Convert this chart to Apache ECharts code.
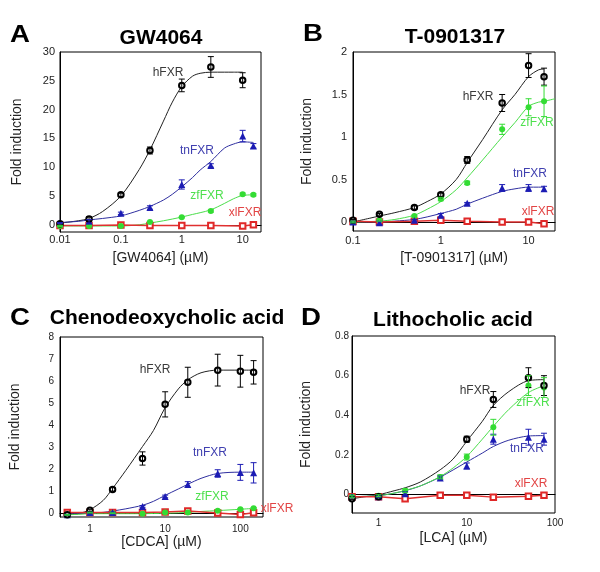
<!DOCTYPE html>
<html><head><meta charset="utf-8">
<script src="https://cdn.jsdelivr.net/npm/echarts@6/dist/echarts.min.js"></script>
<style>html,body{margin:0;padding:0;background:#fff}#c{width:600px;height:572px}</style>
</head><body><div id="c"></div>
<script>
// ---------- DATA ----------
const seriesNames = ['hFXR', 'tnFXR', 'zfFXR', 'xlFXR'];
const panelTitles = ['GW4064', 'T-0901317', 'Chenodeoxycholic acid', 'Lithocholic acid'];
const panelLetters = ['A', 'B', 'C', 'D'];
const xAxisNames = ['[GW4064] (\u00b5M)', '[T-0901317] (\u00b5M)', '[CDCA] (\u00b5M)', '[LCA] (\u00b5M)'];
const yAxisName = 'Fold induction';

// Panel A: GW4064
const A_dose = [0.01, 0.03, 0.1, 0.3, 1, 3, 10, 15];
const A_h = [0.2, 1.0, 5.2, 12.9, 24.2, 27.4, 25.1, null];
const A_h_err = [0.2, 0.4, 0.3, 0.6, 1.1, 1.8, 1.3, null];
const A_tn = [0.3, 0.6, 2.0, 3.0, 7.0, 10.3, 15.4, 13.7];
const A_tn_err = [0.1, 0.3, 0.2, 0.3, 0.8, 0.3, 1.0, 0.4];
const A_zf = [-0.2, -0.2, -0.2, 0.5, 1.3, 2.4, 5.3, 5.2];
const A_zf_err = [0.1, 0.1, 0.1, 0.1, 0.1, 0.2, 0.2, 0.2];
const A_xl = [-0.1, -0.1, -0.05, -0.1, -0.1, -0.1, -0.2, 0.0];
const A_fit_x = [0.01, 0.02, 0.03, 0.05, 0.1, 0.2, 0.3, 0.5, 0.7, 1, 1.5, 2, 3, 5, 7, 10, 15];
const A_h_fit = [0.3, 0.7, 1.1, 2.3, 5.0, 9.6, 13.0, 18.0, 21.3, 24.0, 25.8, 26.3, 26.5, 26.5, 26.5, 26.5, null];
const A_tn_fit = [0.4, 0.6, 0.85, 1.1, 1.55, 2.5, 3.2, 4.3, 5.3, 6.6, 8.2, 9.5, 11.0, 13.3, 14.0, 14.4, 14.3];
const A_zf_fit = [-0.2, -0.2, -0.2, -0.2, -0.2, 0.0, 0.3, 0.7, 1.0, 1.35, 1.8, 2.1, 2.6, 3.7, 4.5, 5.1, 5.2];
const A_yTicks = [0, 5, 10, 15, 20, 25, 30];

// Panel B: T-0901317
const B_dose = [0.1, 0.2, 0.5, 1, 2, 5, 10, 15];
const B_h = [0.02, 0.09, 0.17, 0.32, 0.73, 1.40, 1.84, 1.71];
const B_h_err = [0.01, 0.01, 0.02, 0.02, 0.04, 0.10, 0.14, 0.10];
const B_tn = [0.0, -0.01, 0.02, 0.08, 0.22, 0.40, 0.40, 0.39];
const B_tn_err = [0.01, 0.02, 0.01, 0.02, 0.01, 0.04, 0.04, 0.03];
const B_zf = [0.0, 0.02, 0.07, 0.27, 0.46, 1.09, 1.35, 1.42];
const B_zf_err = [0.01, 0.01, 0.01, 0.02, 0.02, 0.06, 0.10, 0.18];
const B_xl = [0.01, 0.0, 0.01, 0.02, 0.01, 0.0, 0.0, -0.02];
const B_fit_x = [0.1, 0.2, 0.3, 0.5, 0.7, 1, 1.5, 2, 3, 5, 7, 10, 13, 15, 20];
const B_h_fit = [0.0, 0.07, 0.11, 0.17, 0.24, 0.33, 0.5, 0.7, 0.97, 1.32, 1.5, 1.71, 1.79, 1.8, null];
const B_tn_fit = [0.0, 0.0, 0.01, 0.03, 0.06, 0.1, 0.15, 0.21, 0.28, 0.36, 0.39, 0.41, 0.41, 0.41, null];
const B_zf_fit = [0.0, 0.01, 0.03, 0.08, 0.15, 0.24, 0.38, 0.52, 0.73, 1.0, 1.17, 1.36, 1.41, 1.42, 1.45];
const B_yTicks = [0, 0.5, 1, 1.5, 2];

// Panel C: CDCA
const C_dose = [0.5, 1, 2, 5, 10, 20, 50, 100, 150];
const C_h = [-0.05, 0.15, 1.1, 2.5, 4.95, 5.95, 6.5, 6.45, 6.4];
const C_h_err = [0.02, 0.05, 0.08, 0.3, 0.57, 0.68, 0.72, 0.72, 0.53];
const C_tn = [-0.05, 0.05, 0.05, 0.33, 0.78, 1.32, 1.82, 1.87, 1.85];
const C_tn_err = [0.02, 0.02, 0.02, 0.04, 0.06, 0.13, 0.17, 0.36, 0.46];
const C_zf = [-0.05, 0.05, 0.02, 0.0, 0.05, 0.05, 0.13, 0.2, 0.25];
const C_zf_err = [0.02, 0.02, 0.02, 0.02, 0.02, 0.02, 0.03, 0.03, 0.03];
const C_xl = [0.05, 0.05, 0.05, 0.05, 0.08, 0.12, 0.03, -0.04, 0.04];
const C_fit_x = [0.5, 0.7, 1, 1.5, 2, 3, 5, 7, 10, 15, 20, 30, 50, 100, 150];
const C_h_fit = [-0.05, 0.0, 0.18, 0.6, 1.14, 1.96, 3.04, 3.77, 4.8, 5.65, 6.06, 6.38, 6.5, 6.5, 6.5];
const C_tn_fit = [0.0, 0.0, 0.02, 0.06, 0.12, 0.22, 0.38, 0.56, 0.83, 1.12, 1.33, 1.6, 1.82, 1.88, 1.88];
const C_zf_fit = [-0.05, -0.03, 0.0, 0.0, 0.0, 0.0, 0.0, 0.01, 0.02, 0.04, 0.06, 0.1, 0.14, 0.2, 0.24];
const C_yTicks = [0, 1, 2, 3, 4, 5, 6, 7, 8];

// Panel D: LCA
const D_dose = [0.5, 1, 2, 5, 10, 20, 50, 75];
const D_h = [-0.02, -0.01, null, null, 0.28, 0.48, 0.59, 0.55];
const D_h_err = [0.005, 0.005, null, null, 0.015, 0.04, 0.05, 0.05];
const D_tn = [-0.01, -0.01, 0.005, 0.085, 0.145, 0.28, 0.29, 0.28];
const D_tn_err = [0.005, 0.005, 0.01, 0.01, 0.015, 0.025, 0.04, 0.03];
const D_zf = [-0.01, -0.005, 0.02, 0.09, 0.19, 0.34, 0.55, 0.54];
const D_zf_err = [0.005, 0.005, 0.01, 0.01, 0.015, 0.04, 0.05, 0.05];
const D_xl = [-0.01, -0.01, -0.02, -0.003, -0.003, -0.012, -0.007, -0.003];
const D_fit_x = [0.5, 0.7, 1, 1.5, 2, 3, 5, 7, 10, 15, 20, 30, 50, 75];
const D_h_fit = [-0.02, -0.01, 0.0, 0.02, 0.035, 0.065, 0.126, 0.18, 0.27, 0.37, 0.45, 0.52, 0.575, 0.58];
const D_tn_fit = [-0.01, -0.008, -0.005, 0.008, 0.02, 0.045, 0.089, 0.125, 0.165, 0.21, 0.243, 0.275, 0.296, 0.298];
const D_zf_fit = [-0.01, -0.008, -0.005, 0.008, 0.022, 0.045, 0.092, 0.135, 0.193, 0.28, 0.345, 0.43, 0.515, 0.55];
const D_yTicks = [0, 0.2, 0.4, 0.6, 0.8];

// ---------- LAYOUT / STYLE ----------
const FONT = '"Liberation Sans", Arial, sans-serif';
const COL = { h: '#000000', tn: '#1c1cb4', zf: '#34dc34', xl: '#e02828' };
const LINECOL = { h: '#222222', tn: '#2f2fa0', zf: '#4ade4a', xl: '#e03030' };
const LABCOL = { hFXR: '#3a3a3a', tnFXR: '#4040b0', zfFXR: '#4ee04e', xlFXR: '#e24545' };

const layout = [
  { grid: {left: 60, top: 52, width: 201, height: 180}, xMin: 0.01, xMax: 20, yMin: -1.25, yMax: 30,
    tickFont: 11, xMargin: 2, yMargin: 5, xNameGap: 19, yNameGap: 36,
    letter: [20, 35], title: [161, 38],
    labels: { hFXR: [168, 73], tnFXR: [197, 151], zfFXR: [207, 196], xlFXR: [245, 213] } },
  { grid: {left: 353, top: 52, width: 202, height: 179}, xMin: 0.1, xMax: 20, yMin: -0.106, yMax: 2,
    tickFont: 11, xMargin: 4, yMargin: 6, xNameGap: 20, yNameGap: 39,
    letter: [313, 34], title: [455, 37],
    labels: { hFXR: [478, 97], zfFXR: [537, 123], tnFXR: [530, 174], xlFXR: [538, 212] } },
  { grid: {left: 60, top: 337, width: 203, height: 180}, xMin: 0.4, xMax: 200, yMin: -0.15, yMax: 8,
    tickFont: 10, xMargin: 7, yMargin: 6, xNameGap: 16, yNameGap: 38,
    letter: [20, 318], title: [167, 318],
    labels: { hFXR: [155, 370], tnFXR: [210, 453], zfFXR: [212, 497], xlFXR: [277, 509] } },
  { grid: {left: 352, top: 336, width: 203, height: 177}, xMin: 0.5, xMax: 100, yMin: -0.092, yMax: 0.8,
    tickFont: 10, xMargin: 5, yMargin: 3, xNameGap: 18, yNameGap: 39,
    letter: [311, 318], title: [453, 320],
    labels: { hFXR: [475, 391], zfFXR: [533, 403], tnFXR: [527, 449], xlFXR: [531, 484] } }
];

const panels = [
  { dose: A_dose, fitX: A_fit_x, h: A_h, hErr: A_h_err, hFit: A_h_fit, tn: A_tn, tnErr: A_tn_err, tnFit: A_tn_fit, zf: A_zf, zfErr: A_zf_err, zfFit: A_zf_fit, xl: A_xl, yTicks: A_yTicks },
  { dose: B_dose, fitX: B_fit_x, h: B_h, hErr: B_h_err, hFit: B_h_fit, tn: B_tn, tnErr: B_tn_err, tnFit: B_tn_fit, zf: B_zf, zfErr: B_zf_err, zfFit: B_zf_fit, xl: B_xl, yTicks: B_yTicks },
  { dose: C_dose, fitX: C_fit_x, h: C_h, hErr: C_h_err, hFit: C_h_fit, tn: C_tn, tnErr: C_tn_err, tnFit: C_tn_fit, zf: C_zf, zfErr: C_zf_err, zfFit: C_zf_fit, xl: C_xl, yTicks: C_yTicks },
  { dose: D_dose, fitX: D_fit_x, h: D_h, hErr: D_h_err, hFit: D_h_fit, tn: D_tn, tnErr: D_tn_err, tnFit: D_tn_fit, zf: D_zf, zfErr: D_zf_err, zfFit: D_zf_fit, xl: D_xl, yTicks: D_yTicks }
];

function pairs(x, y) { return x.map((v, i) => [v, y[i]]).filter(p => p[1] != null); }
function triples(x, y, e) { return x.map((v, i) => [v, y[i], e[i]]).filter(p => p[1] != null && p[2] != null); }
function logLabel(v) {
  const l = Math.log10(v);
  return Math.abs(l - Math.round(l)) < 1e-6 ? String(+(+v).toPrecision(6)) : '';
}

const grids = [], xAxes = [], yAxes = [], series = [], graphics = [];

panels.forEach((P, i) => {
  const L = layout[i];
  grids.push(Object.assign({ show: true, borderColor: '#000', borderWidth: 1, backgroundColor: 'transparent', containLabel: false, outerBoundsMode: 'none' }, L.grid));
  xAxes.push({
    type: 'log', logBase: 10, gridIndex: i, min: L.xMin, max: L.xMax,
    axisLine: { show: true, lineStyle: { color: '#000', width: 1 } },
    axisTick: { show: false }, splitLine: { show: false }, minorTick: { show: false },
    axisLabel: { formatter: logLabel, fontSize: L.tickFont, color: '#222', fontFamily: FONT, margin: L.xMargin },
    name: xAxisNames[i], nameLocation: 'middle', nameGap: L.xNameGap,
    nameTextStyle: { fontSize: 14, color: '#222', fontFamily: FONT }
  });
  yAxes.push({
    type: 'value', gridIndex: i, min: L.yMin, max: L.yMax,
    axisLine: { show: true, onZero: false, lineStyle: { color: '#000', width: 1 } },
    axisTick: { show: false }, splitLine: { show: false },
    axisLabel: { customValues: P.yTicks, fontSize: L.tickFont, color: '#222', fontFamily: FONT, margin: L.yMargin },
    name: yAxisName, nameLocation: 'middle', nameGap: L.yNameGap,
    nameTextStyle: { fontSize: 14, color: '#222', fontFamily: FONT }
  });

  const ax = { xAxisIndex: i, yAxisIndex: i };
  const fits = [['hFit', 'h'], ['tnFit', 'tn'], ['zfFit', 'zf']];
  fits.forEach(([k, c]) => {
    series.push(Object.assign({
      type: 'line', data: pairs(P.fitX, P[k]), showSymbol: false, smooth: 0.3, silent: true, z: 2,
      lineStyle: { color: LINECOL[c], width: 1 }, animation: false
    }, ax));
  });
  // xlFXR line with open squares
  series.push(Object.assign({
    type: 'line', data: pairs(P.dose, P.xl), symbol: 'emptyRect', symbolSize: 5.5, showSymbol: true, silent: true, z: 3,
    lineStyle: { color: LINECOL.xl, width: 1.5 }, itemStyle: { color: COL.xl, borderColor: COL.xl, borderWidth: 1 }, animation: false
  }, ax));
  // markers
  series.push(Object.assign({ type: 'scatter', data: pairs(P.dose, P.zf), symbol: 'circle', symbolSize: 6, z: 3, silent: true, itemStyle: { color: COL.zf, opacity: 1 }, animation: false }, ax));
  series.push(Object.assign({ type: 'scatter', data: pairs(P.dose, P.tn), symbol: 'triangle', symbolSize: 7, z: 3, silent: true, itemStyle: { color: COL.tn, opacity: 1 }, animation: false }, ax));
  series.push(Object.assign({ type: 'scatter', data: pairs(P.dose, P.h), symbol: 'emptyCircle', symbolSize: 5.5, z: 3, silent: true, itemStyle: { color: COL.h, borderColor: COL.h, borderWidth: 1.2, opacity: 1 }, animation: false }, ax));
  // error bars
  [['h', 'hErr'], ['tn', 'tnErr'], ['zf', 'zfErr']].forEach(([k, e]) => {
    const color = COL[k];
    series.push(Object.assign({
      type: 'custom', z: 4, silent: true, animation: false,
      data: triples(P.dose, P[k], P[e]),
      encode: { x: 0, y: 1 },
      renderItem: function (params, api) {
        const x = api.value(0), y = api.value(1), er = api.value(2);
        const t = api.coord([x, y + er]), b = api.coord([x, y - er]);
        const cw = 3, st = { stroke: color, lineWidth: 1 };
        return { type: 'group', children: [
          { type: 'line', shape: { x1: t[0], y1: t[1], x2: b[0], y2: b[1] }, style: st },
          { type: 'line', shape: { x1: t[0] - cw, y1: t[1], x2: t[0] + cw, y2: t[1] }, style: st },
          { type: 'line', shape: { x1: b[0] - cw, y1: b[1], x2: b[0] + cw, y2: b[1] }, style: st }
        ] };
      }
    }, ax));
  });

  // texts
  graphics.push({ type: 'text', x: L.letter[0], y: L.letter[1], scaleX: 1.15, originX: 0, originY: 0, z: 10,
    style: { text: panelLetters[i], font: 'bold 24px ' + FONT, fill: '#000', textAlign: 'center', textVerticalAlign: 'middle' } });
  graphics.push({ type: 'text', x: L.title[0], y: L.title[1], z: 10,
    style: { text: panelTitles[i], font: 'bold 21px ' + FONT, fill: '#000', textAlign: 'center', textVerticalAlign: 'middle' } });
  seriesNames.forEach(n => {
    const p = L.labels[n];
    graphics.push({ type: 'text', x: p[0], y: p[1], z: 10,
      style: { text: n, font: '12px ' + FONT, fill: LABCOL[n], textAlign: 'center', textVerticalAlign: 'middle' } });
  });
});

const chart = echarts.init(document.getElementById('c'), null, { renderer: 'canvas', width: 600, height: 572 });
chart.setOption({
  backgroundColor: '#fff',
  animation: false,
  textStyle: { fontFamily: FONT },
  grid: grids, xAxis: xAxes, yAxis: yAxes, series: series, graphic: graphics
});
</script></body></html>
